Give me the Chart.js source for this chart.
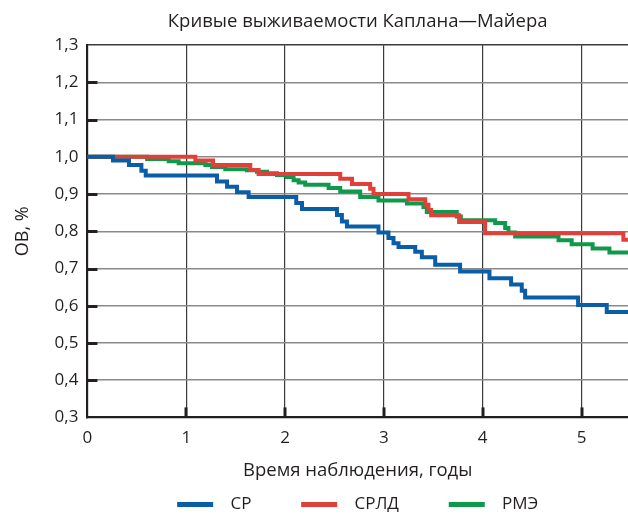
<!DOCTYPE html>
<html><head><meta charset="utf-8">
<script src="https://cdn.jsdelivr.net/npm/chart.js@4/dist/chart.umd.min.js"></script>
<style>html,body{margin:0;padding:0;background:#fff}</style>
</head><body>
<canvas id="c" width="628" height="525"></canvas>
<script>
// ---- data ----
const titleText = 'Кривые выживаемости Каплана—Майера';
const xTitle = 'Время наблюдения, годы';
const yTitle = 'ОВ, %';
const seriesNames = ['СР', 'СРЛД', 'РМЭ'];

const srTimes  = [0, 0.258, 0.42, 0.546, 0.59, 1.311, 1.413, 1.514, 1.631, 2.113, 2.171, 2.525, 2.575, 2.626, 2.945, 3.046, 3.097, 3.148, 3.317, 3.384, 3.519, 3.771, 4.068, 4.287, 4.395, 4.429, 4.965, 5.255, 5.47];
const srValues = [1.0, 0.99, 0.978, 0.963, 0.95, 0.934, 0.92, 0.905, 0.892, 0.876, 0.86, 0.844, 0.826, 0.813, 0.797, 0.782, 0.768, 0.758, 0.745, 0.73, 0.71, 0.692, 0.674, 0.657, 0.64, 0.622, 0.602, 0.583, 0.583];

const srldTimes  = [0, 1.092, 1.271, 1.648, 1.732, 2.558, 2.677, 2.861, 2.895, 3.249, 3.418, 3.451, 3.478, 3.761, 4.024, 5.423, 5.47];
const srldValues = [1.0, 0.99, 0.978, 0.965, 0.954, 0.941, 0.927, 0.914, 0.9, 0.886, 0.871, 0.857, 0.843, 0.825, 0.795, 0.777, 0.777];

const rmeTimes  = [0, 0.604, 0.822, 0.923, 1.193, 1.261, 1.395, 1.614, 1.716, 1.817, 1.918, 2.019, 2.086, 2.137, 2.204, 2.44, 2.558, 2.76, 2.945, 3.233, 3.4, 3.434, 3.737, 3.778, 4.126, 4.227, 4.26, 4.328, 4.767, 4.9, 5.112, 5.282, 5.47];
const rmeValues = [1.0, 0.994, 0.988, 0.983, 0.978, 0.973, 0.967, 0.964, 0.96, 0.956, 0.951, 0.946, 0.937, 0.931, 0.925, 0.916, 0.907, 0.892, 0.883, 0.875, 0.865, 0.852, 0.84, 0.83, 0.822, 0.809, 0.797, 0.786, 0.776, 0.765, 0.754, 0.743, 0.743];

const xMin = 0, xMax = 5.47, xStep = 1;
const yMin = 0.3, yMax = 1.3, yStep = 0.1;

const colors = ['#0a5ea8', '#e0403a', '#10994a'];
// ------------------------------------------------

const FONT = "'Open Sans', sans-serif";
const TXT = '#231f20';
const toPts = (t, v) => t.map((x, i) => ({x: x, y: v[i]}));

const innerTicks = {
  id: 'innerTicks',
  beforeDatasetsDraw(chart) {
    const {ctx, chartArea: a, scales: {x, y}} = chart;
    ctx.save();
    ctx.strokeStyle = '#231f20';
    ctx.lineWidth = 3;
    y.ticks.forEach(t => {
      if (t.value <= yMin + 1e-6 || t.value >= yMax - 1e-6) return;
      const p = Math.round(y.getPixelForValue(t.value)) + 0.5;
      ctx.beginPath(); ctx.moveTo(a.left, p); ctx.lineTo(a.left + 10, p); ctx.stroke();
    });
    x.ticks.forEach(t => {
      if (t.value <= xMin + 1e-6) return;
      const p = Math.round(x.getPixelForValue(t.value));
      ctx.beginPath(); ctx.moveTo(p, a.bottom); ctx.lineTo(p, a.bottom - 10); ctx.stroke();
    });
    ctx.restore();
  }
};

new Chart(document.getElementById('c'), {
  type: 'line',
  data: {
    datasets: [
      {label: seriesNames[0], data: toPts(srTimes, srValues)},
      {label: seriesNames[1], data: toPts(srldTimes, srldValues)},
      {label: seriesNames[2], data: toPts(rmeTimes, rmeValues)}
    ].map((d, i) => Object.assign(d, {
      borderColor: colors[i], backgroundColor: colors[i], borderWidth: 4,
      stepped: true, pointRadius: 0, fill: false, tension: 0
    }))
  },
  options: {
    responsive: false, animation: false,
    layout: {padding: {left: 12, right: 0, top: 0, bottom: 2}},
    plugins: {
      title: {display: true, text: titleText, fullSize: false, color: TXT,
        font: {family: FONT, size: 18.5, weight: 'normal'}, padding: {top: 11, bottom: 12}},
      legend: {position: 'bottom', fullSize: false,
        labels: {color: TXT, font: {family: FONT, size: 17}, boxWidth: 36, boxHeight: 5, padding: 10,
          generateLabels: (chart) => chart.data.datasets.map((d, i, arr) => ({
            text: '  ' + d.label + (i < arr.length - 1 ? '         ' : ''), fillStyle: d.borderColor, strokeStyle: d.borderColor, lineWidth: 0,
            hidden: false, datasetIndex: i, fontColor: TXT}))}},
      tooltip: {enabled: false}
    },
    scales: {
      x: {type: 'linear', min: xMin, max: xMax,
        ticks: {stepSize: xStep, includeBounds: false, color: TXT, padding: 11,
          font: {family: FONT, size: 17}, callback: v => String(v)},
        grid: {color: '#3a3a3a', lineWidth: 1.2, drawTicks: false},
        border: {color: '#231f20', width: 2},
        title: {display: true, text: xTitle, color: TXT, font: {family: FONT, size: 18.5}, padding: {top: 0, bottom: 4}}},
      y: {type: 'linear', min: yMin, max: yMax,
        ticks: {stepSize: yStep, color: TXT, padding: 9, font: {family: FONT, size: 17},
          callback: v => v.toFixed(1).replace('.', ',')},
        grid: {color: c => (c.tick && c.tick.value >= yMax - 1e-6) ? '#3a3a3a' : '#8a8a8a', lineWidth: 1.5, drawTicks: false},
        border: {color: '#231f20', width: 2},
        title: {display: true, text: yTitle, color: TXT, font: {family: FONT, size: 18}, padding: {top: 0, bottom: 12}}}
    }
  },
  plugins: [innerTicks]
});
</script>
</body></html>
